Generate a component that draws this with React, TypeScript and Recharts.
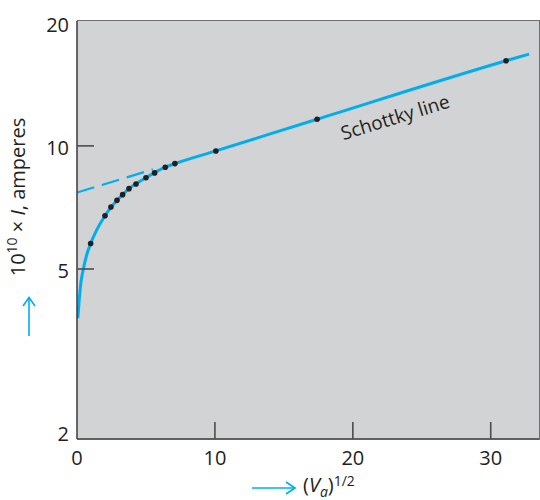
import React from 'react';
import { ComposedChart, Line, Scatter, XAxis, YAxis } from 'recharts';

// values (x = Va^1/2, y = 10^10 x I in amperes)
const xDomain = [0, 33.5];
const yDomain = [1.92, 20.2];
const xTicks = [0, 10, 20, 30];
const yTicks = [2, 5, 10, 20];
const xInnerTicks = [10, 20, 30];
const yInnerTicks = [5, 10];

const measuredX = [0.99, 2.03, 2.46, 2.9, 3.31, 3.77, 4.28, 5.0, 5.63, 6.4, 7.1, 10.07, 17.41, 31.11];
const measuredY = [5.77, 6.75, 7.09, 7.36, 7.6, 7.86, 8.07, 8.36, 8.59, 8.87, 9.05, 9.72, 11.62, 16.15];

const curveX = [0.06, 0.17, 0.29, 0.46, 0.7, 0.99, 1.43, 2.03, 2.9, 3.77, 5.0, 6.4, 7.1, 10.07, 17.41, 31.11, 32.78];
const curveY = [3.79, 4.24, 4.65, 5.0, 5.41, 5.77, 6.23, 6.75, 7.36, 7.86, 8.36, 8.87, 9.05, 9.72, 11.62, 16.15, 16.77];

const extrapX = [0, 5.5];
const extrapY = [7.69, 8.76];

const zip = (xs: number[], ys: number[]) => xs.map((x, i) => ({ x, y: ys[i] }));
const measured = zip(measuredX, measuredY);
const curve = zip(curveX, curveY);
const extrap = zip(extrapX, extrapY);

const BLUE = '#00aeef';
const INK = '#231f20';
const TICK = '#4d4d4f';
const FONT = '"Open Sans", sans-serif';

// plot box (matches chart margins and axis sizes below)
const PLOT = { left: 77, top: 21, width: 462, height: 418 };
const px = (v: number) => PLOT.left + ((v - xDomain[0]) / (xDomain[1] - xDomain[0])) * PLOT.width;
const py = (v: number) =>
  PLOT.top + ((Math.log(yDomain[1]) - Math.log(v)) / (Math.log(yDomain[1]) - Math.log(yDomain[0]))) * PLOT.height;

const XTick = (props: any) => {
  const { x, y, payload } = props;
  return (
    <text x={x} y={y + 26} textAnchor="middle" fill={INK} fontSize={20} fontFamily={FONT}>
      {payload.value}
    </text>
  );
};

const YTick = (props: any) => {
  const { x, y, payload } = props;
  return (
    <text x={x - 8} y={y + 9} textAnchor="end" fill={INK} fontSize={20} fontFamily={FONT}>
      {payload.value}
    </text>
  );
};

const Dot = (props: any) => <circle cx={props.cx} cy={props.cy} r={2.8} fill={INK} />;

export default function App() {
  return (
    <div style={{ position: 'absolute', left: 0, top: 0, width: 540, height: 500, background: '#fff' }}>
      {/* plot background with light top/right frame */}
      <div
        style={{
          position: 'absolute',
          left: PLOT.left,
          top: PLOT.top - 1,
          width: PLOT.width,
          height: PLOT.height + 1,
          background: '#d1d3d4',
          borderTop: '1.5px solid #6d6e71',
          borderRight: '1.5px solid #6d6e71',
        }}
      />
      <ComposedChart
        width={540}
        height={500}
        data={curve}
        margin={{ top: PLOT.top, right: 540 - PLOT.left - PLOT.width, left: 0, bottom: 0 }}
        style={{ position: 'absolute', left: 0, top: 0 }}
      >
        <XAxis
          dataKey="x"
          type="number"
          domain={xDomain}
          ticks={xTicks}
          allowDataOverflow
          height={500 - PLOT.top - PLOT.height}
          tickSize={0}
          tickMargin={0}
          tick={<XTick />}
          axisLine={{ stroke: '#3a3a3c', strokeWidth: 1.5 }}
          tickLine={false}
        />
        <YAxis
          dataKey="y"
          type="number"
          scale="log"
          domain={yDomain}
          ticks={yTicks}
          allowDataOverflow
          width={PLOT.left}
          tickSize={0}
          tickMargin={0}
          tick={<YTick />}
          axisLine={{ stroke: '#3a3a3c', strokeWidth: 1.5 }}
          tickLine={false}
        />
        <Line data={extrap} dataKey="y" type="linear" stroke={BLUE} strokeWidth={2.2} strokeDasharray="18 8" dot={false} isAnimationActive={false} />
        <Line data={curve} dataKey="y" type="monotone" stroke={BLUE} strokeWidth={3} dot={false} isAnimationActive={false} />
        <Scatter data={measured} dataKey="y" shape={<Dot />} isAnimationActive={false} />
      </ComposedChart>
      <svg width={540} height={500} style={{ position: 'absolute', left: 0, top: 0, pointerEvents: 'none' }} fontFamily={FONT}>
        {/* short inward tick marks */}
        {xInnerTicks.map((t) => (
          <line key={`xm${t}`} x1={px(t)} x2={px(t)} y1={PLOT.top + PLOT.height} y2={PLOT.top + PLOT.height - 17} stroke={TICK} strokeWidth={1.6} />
        ))}
        {yInnerTicks.map((t) => (
          <line key={`ym${t}`} x1={PLOT.left} x2={PLOT.left + 17} y1={py(t)} y2={py(t)} stroke={TICK} strokeWidth={1.6} />
        ))}
        <text x={395} y={124} textAnchor="middle" fontSize={19} fill={INK} transform="rotate(-17 395 117)">
          Schottky line
        </text>
        <text x={32} y={204} textAnchor="middle" fontSize={20} fill={INK} transform="rotate(-90 25 204)">
          10<tspan fontSize={14} dy={-8}>10</tspan>
          <tspan dy={8}> × </tspan>
          <tspan fontStyle="italic">I</tspan>, amperes
        </text>
        <line x1={29} y1={336} x2={29} y2={298} stroke={BLUE} strokeWidth={1.6} />
        <polyline points="23,306 29,297.5 35,306" fill="none" stroke={BLUE} strokeWidth={1.6} />
        <line x1={252} y1={488} x2={294} y2={488} stroke={BLUE} strokeWidth={1.6} />
        <polyline points="286,482 295,488 286,494" fill="none" stroke={BLUE} strokeWidth={1.6} />
        <text x={303} y={492} fontSize={20} fill={INK}>
          (<tspan fontStyle="italic">V</tspan>
          <tspan fontSize={14} fontStyle="italic" dy={5}>a</tspan>
          <tspan dy={-5}>)</tspan>
          <tspan fontSize={14} dy={-6}>1/2</tspan>
        </text>
      </svg>
    </div>
  );
}
